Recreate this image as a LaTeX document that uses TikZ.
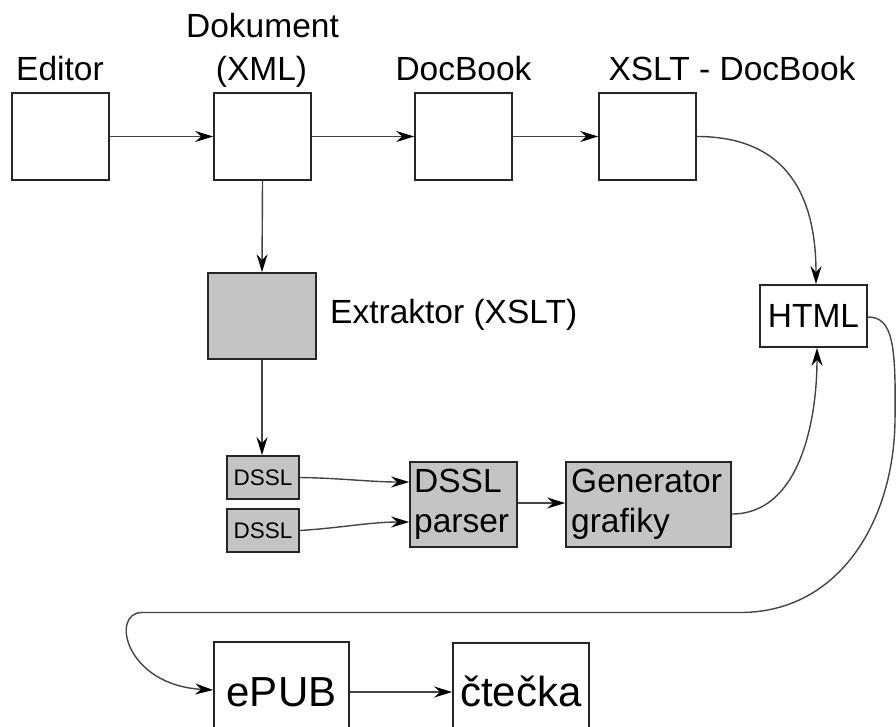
\documentclass[tikz,border=0pt]{standalone}
\usepackage{fontspec}
\setmainfont{Liberation Sans}
\usetikzlibrary{arrows.meta}
\definecolor{boxgray}{HTML}{C4C4C4}
\definecolor{linegray}{HTML}{444444}
\begin{document}
\begin{tikzpicture}[x=1pt,y=-1pt,
  box/.style={draw=black!85,line width=1.7pt,inner sep=0pt},
  wbox/.style={box,fill=white},
  gbox/.style={box,fill=boxgray},
  lbl/.style={inner sep=0pt,anchor=base,font=\fontsize{33.5}{40}\selectfont},
  lblw/.style={inner sep=0pt,anchor=base west,font=\fontsize{33.5}{40}\selectfont},
  conn/.style={draw=linegray,line width=1.4pt,-{Stealth[length=18pt,width=11pt,inset=6pt,color=black]}}]
\useasboundingbox (0,0) rectangle (896,726);
\clip (0,0) rectangle (896,726);
% top row
\node[wbox,minimum width=97pt,minimum height=87pt] (editor) at (60.5,136.5) {};
\node[wbox,minimum width=97pt,minimum height=87pt] (dok) at (262.5,136.5) {};
\node[wbox,minimum width=97pt,minimum height=87pt] (docbook) at (463.5,136.5) {};
\node[wbox,minimum width=97pt,minimum height=87pt] (xslt) at (647.5,136.5) {};
\node[lbl] (teditor) at (60,80) {Editor};
\node[lbl] (tdok1) at (262.5,37) {Dokument};
\node[lbl] (tdok2) at (261.5,80) {(XML)};
\node[lbl] (tdocbook) at (463.5,80) {DocBook};
\node[lbl] (txslt) at (732,80) {XSLT - DocBook};
% HTML
\node[wbox,minimum width=107pt,minimum height=62pt,font=\fontsize{33.5}{40}\selectfont] (html) at (813.5,316) {HTML};
% extraktor
\node[gbox,minimum width=108pt,minimum height=86pt] (extr) at (262,316) {};
\node[lblw] (textr) at (330,323) {Extraktor (XSLT)};
% DSSL
\node[gbox,minimum width=72pt,minimum height=43pt,font=\fontsize{22.5}{26}\selectfont] (dssl1) at (263,477.5) {DSSL};
\node[gbox,minimum width=72pt,minimum height=43pt,font=\fontsize{22.5}{26}\selectfont] (dssl2) at (263,530.5) {DSSL};
\node[gbox,minimum width=107pt,minimum height=85pt] (parser) at (463.5,504.5) {};
\node[lblw] (tparser1) at (414,492) {DSSL};
\node[lblw] (tparser2) at (414,532) {parser};
\node[gbox,minimum width=165pt,minimum height=85pt] (gen) at (648.5,504.5) {};
\node[lblw] (tgen1) at (571,492) {Generator};
\node[lblw] (tgen2) at (571,532) {grafiky};
% bottom
\node[wbox,minimum width=135pt,minimum height=116pt] (epub) at (281.5,700) {};
\node[wbox,minimum width=136pt,minimum height=116pt] (ctecka) at (521,701) {};
\node[inner sep=0pt,anchor=base,font=\fontsize{42}{50}\selectfont] (tepub) at (281.5,706) {ePUB};
\node[inner sep=0pt,anchor=base,font=\fontsize{42}{50}\selectfont] (tctecka) at (521,706) {čtečka};
% connectors
\draw[conn] (editor.east) -- (dok.west);
\draw[conn] (dok.east) -- (docbook.west);
\draw[conn] (docbook.east) -- (xslt.west);
\draw[conn] (dok.south) -- (extr.north);
\draw[conn] (extr.south) -- (extr.south |- dssl1.north);
\draw[conn] (xslt.east) .. controls (790,136.5) and (816,200) .. (html.north -| 816,0);
\draw[conn] (dssl1.east) .. controls (340,478) and (370,482) .. (parser.west |- 0,482);
\draw[conn] (dssl2.east) .. controls (340,528) and (370,522) .. (parser.west |- 0,522);
\draw[conn] (parser.east |- 0,503) -- (gen.west |- 0,503);
\draw[conn] (gen.east |- 0,514) .. controls (800,514) and (817,420) .. (html.south -| 817,0);
\coordinate (r1) at (895,420);
\coordinate (b1) at (740,612.5);
\coordinate (b2) at (142,612.5);
\draw[conn] (html.east |- 0,317) .. controls (893,317) and (896,345) .. (r1)
  .. controls (894,520) and (840,612.5) .. (b1) -- (b2)
  .. controls (110,612.5) and (125,685) .. (epub.west |- 0,690);
\draw[conn] (epub.east |- 0,692) -- (ctecka.west |- 0,692);
\end{tikzpicture}
\end{document}
